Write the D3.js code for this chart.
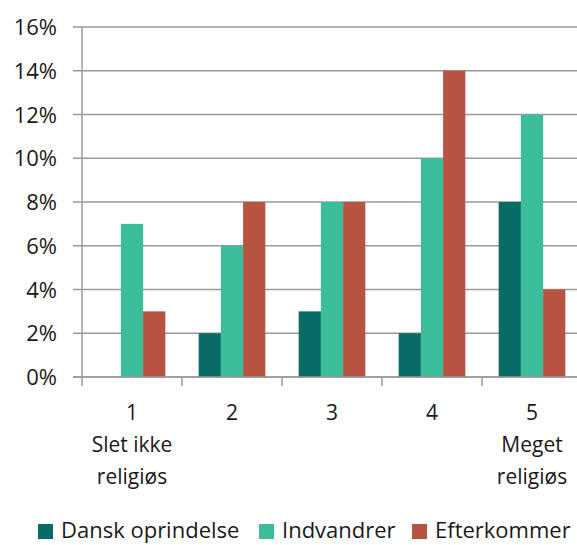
<!DOCTYPE html>
<html lang="da">
<head>
<meta charset="UTF-8">
<script src="https://d3js.org/d3.v7.min.js"></script>
<style>
  body { margin: 0; background: #fff; }
  text { font-family: "Open Sans", Lato, sans-serif; fill: #1a1a1a; }
</style>
</head>
<body>
<svg width="577" height="545"></svg>
<script>
// data
const categories = ['1', '2', '3', '4', '5'];
const catLabels = [['1', 'Slet ikke', 'religiøs'], ['2'], ['3'], ['4'], ['5', 'Meget', 'religiøs']];
const seriesNames = ['Dansk oprindelse', 'Indvandrer', 'Efterkommer'];
const danskValues = [0, 2, 3, 2, 8];
const indvandrerValues = [7, 6, 8, 10, 12];
const efterkommerValues = [3, 8, 8, 14, 4];
const yTicks = [0, 2, 4, 6, 8, 10, 12, 14, 16];
const colors = ['#086b66', '#3bbd9b', '#b85342'];

const series = [danskValues, indvandrerValues, efterkommerValues];

const svg = d3.select('svg');
const plotLeft = 82, plotRight = 582, plotTop = 27, plotBottom = 377;

const x = d3.scaleBand().domain(categories).range([plotLeft, plotRight]);
// excel style: gap width 150% of one bar => bar = band / 4.5
const barW = x.bandwidth() / 4.5;
const xOff = d3.scaleOrdinal().domain(seriesNames).range([0, 1, 2].map(i => barW * 0.75 + i * barW));

const y = d3.scaleLinear().domain([0, 16]).range([plotBottom, plotTop]);

// gridlines
svg.append('g')
  .selectAll('line')
  .data(yTicks)
  .join('line')
  .attr('x1', plotLeft - 9).attr('x2', 577)
  .attr('y1', d => y(d)).attr('y2', d => y(d))
  .attr('stroke', '#9a9a9a').attr('stroke-width', 1.5);

// y axis line
svg.append('line')
  .attr('x1', plotLeft).attr('x2', plotLeft)
  .attr('y1', plotTop).attr('y2', plotBottom + 9)
  .attr('stroke', '#9a9a9a').attr('stroke-width', 1.5);

// x ticks at category boundaries
svg.append('g')
  .selectAll('line')
  .data(categories.slice(1))
  .join('line')
  .attr('x1', d => x(d)).attr('x2', d => x(d))
  .attr('y1', plotBottom).attr('y2', plotBottom + 9)
  .attr('stroke', '#9a9a9a').attr('stroke-width', 1.5);

// y labels
svg.append('g')
  .selectAll('text')
  .data(yTicks)
  .join('text')
  .attr('x', 57)
  .attr('y', d => y(d) + 8)
  .attr('text-anchor', 'end')
  .style('font-size', '22px')
  .text(d => d + '%');

// bars
series.forEach((vals, si) => {
  svg.append('g')
    .selectAll('rect')
    .data(vals)
    .join('rect')
    .attr('x', (d, i) => x(categories[i]) + xOff(seriesNames[si]))
    .attr('y', d => y(d))
    .attr('width', barW)
    .attr('height', d => y(0) - y(d))
    .attr('fill', colors[si]);
});

// redraw baseline over bars
svg.append('line')
  .attr('x1', plotLeft - 9).attr('x2', 577)
  .attr('y1', plotBottom).attr('y2', plotBottom)
  .attr('stroke', '#9a9a9a').attr('stroke-width', 1.5);

// x labels
const xl = svg.append('g');
catLabels.forEach((lines, i) => {
  const t = xl.append('text')
    .attr('text-anchor', 'middle')
    .style('font-size', '21px');
  lines.forEach((s, j) => {
    t.append('tspan')
      .attr('x', x(categories[i]) + x.bandwidth() / 2)
      .attr('y', 420 + j * 32)
      .text(s);
  });
});

// legend
const legendX = [38, 259, 412];
const lg = svg.append('g');
seriesNames.forEach((name, i) => {
  lg.append('rect')
    .attr('x', legendX[i]).attr('y', 524)
    .attr('width', 15).attr('height', 15)
    .attr('fill', colors[i]);
  lg.append('text')
    .attr('x', legendX[i] + 23).attr('y', 538)
    .style('font-size', '22px')
    .text(name);
});
</script>
</body>
</html>
